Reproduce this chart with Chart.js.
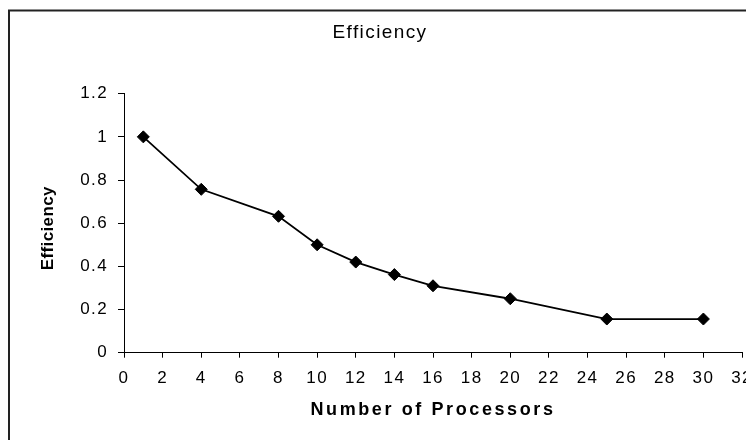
<!DOCTYPE html>
<html>
<head>
<meta charset="utf-8">
<script src="https://cdn.jsdelivr.net/npm/chart.js@4/dist/chart.umd.min.js"></script>
<style>
  html, body { margin: 0; padding: 0; background: #fff; overflow: hidden; width: 746px; height: 440px; }
  #wrap { position: relative; width: 770px; height: 440px; }
</style>
</head>
<body>
<div id="wrap"><canvas id="c" width="770" height="440"></canvas></div>
<script>
// Parallel efficiency measured for each processor count
const processors = [1, 4, 8, 10, 12, 14, 16, 20, 25, 30];
const efficiency = [1.0, 0.757, 0.632, 0.5, 0.42, 0.362, 0.31, 0.25, 0.156, 0.156];

// Axis ticks and their labels
const xTickValues = [0, 2, 4, 6, 8, 10, 12, 14, 16, 18, 20, 22, 24, 26, 28, 30, 32];
const yTickValues = [0, 0.2, 0.4, 0.6, 0.8, 1, 1.2];
const yTickLabels = ['0', '0.2', '0.4', '0.6', '0.8', '1', '1.2'];

const chartTitle = 'Efficiency';
const xAxisTitle = 'Number of Processors';
const yAxisTitle = 'Efficiency';

const FONT = '"Liberation Sans", Arial, sans-serif';
const TEXT_SPACING = '1.4px';

// White background, widened glyph spacing and the outer frame
const framePlugin = {
  id: 'frame',
  beforeLayout(chart) { chart.ctx.letterSpacing = TEXT_SPACING; },
  beforeDraw(chart) {
    const ctx = chart.ctx;
    ctx.save();
    ctx.fillStyle = '#fff';
    ctx.fillRect(0, 0, chart.width, chart.height);
    ctx.restore();
    ctx.letterSpacing = TEXT_SPACING;
  },
  afterDraw(chart) {
    const ctx = chart.ctx;
    ctx.save();
    ctx.strokeStyle = '#222';
    ctx.lineWidth = 2;
    ctx.strokeRect(9, 10.5, 800, 500);
    ctx.restore();
  }
};

// Axis titles: the x title wide-spaced, the rotated y title plain
const axisTitlePlugin = {
  id: 'axisTitles',
  afterDraw(chart) {
    const ctx = chart.ctx;
    const area = chart.chartArea;
    ctx.save();
    ctx.fillStyle = '#000';
    ctx.textAlign = 'center';
    ctx.textBaseline = 'middle';

    ctx.letterSpacing = '2.6px';
    ctx.font = 'bold 18px ' + FONT;
    ctx.fillText(xAxisTitle, (area.left + area.right) / 2, 410);

    ctx.letterSpacing = '0.4px';
    ctx.translate(48, (area.top + area.bottom) / 2 + 5);
    ctx.rotate(-Math.PI / 2);
    ctx.font = 'bold 17px ' + FONT;
    ctx.fillText(yAxisTitle, 0, 0);
    ctx.restore();
  }
};

new Chart(document.getElementById('c'), {
  type: 'line',
  data: {
    datasets: [{
      data: processors.map((p, i) => ({ x: p, y: efficiency[i] })),
      borderColor: '#000',
      borderWidth: 1.8,
      pointStyle: 'rectRot',
      pointRadius: 6,
      pointBackgroundColor: '#000',
      pointBorderColor: '#000',
      pointBorderWidth: 1,
      tension: 0,
      fill: false
    }]
  },
  options: {
    responsive: false,
    animation: false,
    devicePixelRatio: 1,
    layout: { padding: { left: 18, top: 0, right: 28, bottom: 0 } },
    plugins: {
      legend: { display: false },
      tooltip: { enabled: false },
      title: {
        display: true,
        text: chartTitle,
        color: '#000',
        font: { family: FONT, size: 19, weight: 'normal' },
        padding: { top: 21.6, bottom: 49.3 }
      }
    },
    scales: {
      x: {
        type: 'linear',
        min: 0,
        max: 32,
        afterBuildTicks(scale) { scale.ticks = xTickValues.map(v => ({ value: v })); },
        afterFit(scale) { scale.height = 87.3; },
        grid: { drawOnChartArea: false, drawTicks: true, tickLength: 5, color: '#000', lineWidth: 1 },
        border: { display: true, color: '#000', width: 1 },
        ticks: { color: '#000', font: { family: FONT, size: 17 }, padding: 10, maxRotation: 0, autoSkip: false },
        title: { display: false }
      },
      y: {
        min: 0,
        max: 1.2,
        afterBuildTicks(scale) { scale.ticks = yTickValues.map(v => ({ value: v })); },
        afterFit(scale) { scale.width = 106; },
        grid: { drawOnChartArea: false, drawTicks: true, tickLength: 6, color: '#000', lineWidth: 1 },
        border: { display: true, color: '#000', width: 1 },
        ticks: {
          color: '#000',
          font: { family: FONT, size: 17 },
          padding: 10,
          callback: (value, index) => yTickLabels[index]
        }
      }
    }
  },
  plugins: [framePlugin, axisTitlePlugin]
});
</script>
</body>
</html>
